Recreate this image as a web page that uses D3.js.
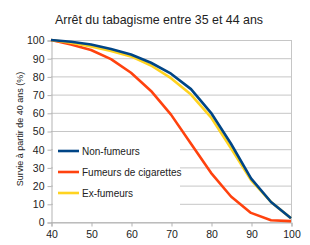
<!DOCTYPE html>
<html><head><meta charset="utf-8">
<script src="https://cdn.jsdelivr.net/npm/d3@7"></script>
<style>body{margin:0;background:#fff}svg{display:block}</style>
</head><body><svg id="c" width="310" height="245"></svg>
<script>
const ages = [40,45,50,55,60,65,70,75,80,85,90,95,100];
const nonFumeurs = [100,99,97.5,95,92,87.5,81.5,73,60,43,24,11,2];
const fumeurs = [100,97.5,94.5,89.5,82,72,59,43,27,14,5,1,0.5];
const exFumeurs = [100,98.5,96.5,94,91,86,79,70,57.5,40.5,23,11,2];
const xTicks = [40,50,60,70,80,90,100];
const yTicks = [0,10,20,30,40,50,60,70,80,90,100];
const seriesNames = ["Non-fumeurs","Fumeurs de cigarettes","Ex-fumeurs"];
const colors = ["#004586","#ff420e","#ffd320"];
const title = "Arrêt du tabagisme entre 35 et 44 ans";
const yLabel = "Survie à partir de 40 ans (%)";

const svg = d3.select("#c");
const font = "Liberation Sans, Arial, sans-serif";
const L=51,R=291,T=40,B=222;
const x = d3.scaleLinear().domain([40,100]).range([L,R]);
const y = d3.scaleLinear().domain([0,100]).range([B,T]);

svg.append("text").attr("x",159).attr("y",24).attr("text-anchor","middle")
  .attr("font-family",font).attr("font-size",12.4).attr("fill","#222").text(title);

// grid
svg.append("g").selectAll("line").data(yTicks).join("line")
  .attr("x1",L).attr("x2",R).attr("y1",d=>y(d)+0.5).attr("y2",d=>y(d)+0.5)
  .attr("stroke","#c6c6c6").attr("stroke-width",1);
svg.append("line").attr("x1",R+0.5).attr("x2",R+0.5).attr("y1",T).attr("y2",B)
  .attr("stroke","#c6c6c6");

const yAxis = d3.axisLeft(y).tickValues(yTicks).tickSize(4).tickPadding(3);
const gy = svg.append("g").attr("transform",`translate(${L+0.5},0.5)`).call(yAxis);
const xAxis = d3.axisBottom(x).tickValues(xTicks).tickSize(4).tickPadding(4);
const gx = svg.append("g").attr("transform",`translate(0.5,${B+0.5})`).call(xAxis);
[gx,gy].forEach(g=>{
  g.selectAll("path,line").attr("stroke","#b3b3b3");
  g.selectAll("text").attr("font-family",font).attr("font-size",10.5).attr("fill","#222");
});

svg.append("text").attr("transform",`translate(23,${(T+B)/2-2}) rotate(-90)`)
  .attr("text-anchor","middle").attr("font-family",font).attr("font-size",9).attr("fill","#222").text(yLabel);

const line = d3.line().x((d,i)=>x(ages[i])).y(d=>y(d));
const data = [nonFumeurs,fumeurs,exFumeurs];
[1,2,0].forEach(k=>{
  svg.append("path").attr("d",line(data[k])).attr("fill","none")
    .attr("stroke",colors[k]).attr("stroke-width",2.6).attr("stroke-linejoin","round");
});

// legend
const lg = svg.append("g");
lg.append("rect").attr("x",53).attr("y",138).attr("width",127).attr("height",70).attr("fill","#fff");
seriesNames.forEach((n,i)=>{
  const yy = 151 + i*21;
  lg.append("line").attr("x1",58).attr("x2",79).attr("y1",yy).attr("y2",yy)
    .attr("stroke",colors[i]).attr("stroke-width",2.6);
  lg.append("text").attr("x",82).attr("y",yy+3.5).attr("font-family",font)
    .attr("font-size",10).attr("fill","#222").text(n);
});
</script></body></html>
